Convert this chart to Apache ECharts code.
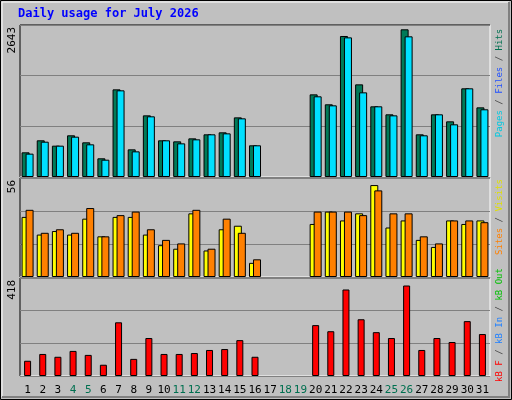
<!DOCTYPE html>
<html><head><meta charset="utf-8">
<script src="https://cdn.jsdelivr.net/npm/echarts@6/dist/echarts.min.js"></script>
<style>html,body{margin:0;padding:0;background:#c0c0c0}#c{width:512px;height:400px}</style>
</head><body><div id="c"></div>
<script>
const days = ['1','2','3','4','5','6','7','8','9','10','11','12','13','14','15','16','17','18','19','20','21','22','23','24','25','26','27','28','29','30','31'];
const weekend = ['4','5','11','12','18','19','25','26'];
const hits = [429,638,545,725,603,325,1524,481,1072,638,620,672,742,777,1037,551,0,0,0,1437,1264,2452,1611,1229,1090,2568,742,1090,968,1542,1211];
const pages = [406,614,545,701,568,301,1507,446,1055,638,585,655,742,759,1020,551,0,0,0,1403,1246,2428,1472,1229,1072,2446,725,1090,916,1542,1177];
const visits = [34,24,26,24,33,23,34,34,24,18,16,36,15,27,29,8,0,0,0,30,37,32,36,52,28,32,21,17,32,30,32];
const sites = [38,25,27,25,39,23,35,37,27,21,19,38,16,33,25,10,0,0,0,37,37,37,35,49,36,36,23,19,32,32,31];
const kbytes = [65,94,82,107,90,48,229,73,162,94,94,98,111,115,153,82,0,0,0,217,191,369,242,187,162,386,111,162,145,234,179];
const maxLabels = [2643, 56, 418];

const chart = echarts.init(document.getElementById('c'));
const mono = 'DejaVu Sans Mono';
const L = 20, W = 470;
const grids = [{top:25,height:152},{top:178,height:99},{top:278,height:98}];
const xAxes = grids.map((g,i)=>({
  type:'category', gridIndex:i, data:days,
  axisLine:{show:false}, axisTick:{show:false},
  axisLabel:{show:i===2, interval:0, margin:9, fontFamily:mono, fontSize:11,
    formatter:v=>weekend.includes(v)?'{w|'+v+'}':'{n|'+v+'}',
    rich:{w:{color:'#007050',fontFamily:mono,fontSize:11},n:{color:'#000',fontFamily:mono,fontSize:11}}}
}));
const yAxes = maxLabels.map((m,i)=>({
  type:'value', gridIndex:i, min:0, max:m, interval:m/3,
  axisLabel:{show:false}, axisLine:{show:false}, axisTick:{show:false},
  splitLine:{show:true, lineStyle:{color:'#808080', width:1}}
}));
function bar(data, color, gi, width){
  return {type:'bar', data:data.map(v=>v===0?'-':v), xAxisIndex:gi, yAxisIndex:gi, barWidth:width, barGap:'-50%',
    itemStyle:{color, borderColor:'#000', borderWidth:1}, animation:false, silent:true};
}
const graphic = [
  {type:'rect', shape:{x:0.5,y:0.5,width:511,height:399}, style:{fill:'none',stroke:'#000'}},
  {type:'polyline', shape:{points:[[2,397],[2,2],[509,2]]}, style:{stroke:'#fff',fill:'none',lineWidth:1}},
  {type:'polyline', shape:{points:[[2,397],[509,397],[509,2]]}, style:{stroke:'#808080',fill:'none',lineWidth:2}},
  {type:'text', left:18, top:8, style:{text:'Daily usage for July 2026', fill:'#0000ff', font:'bold 12px '+mono}}
];
grids.forEach((g,i)=>{
  graphic.push({type:'polyline', shape:{points:[[L,g.top+g.height],[L,g.top],[L+W,g.top]]}, style:{stroke:'#000',fill:'none',lineWidth:1}});
  graphic.push({type:'polyline', shape:{points:[[L,g.top+g.height],[L+W,g.top+g.height],[L+W,g.top]]}, style:{stroke:'#fff',fill:'none',lineWidth:1}});
  graphic.push({type:'text', x:18, y:g.top+2, rotation:Math.PI/2,
    style:{text:String(maxLabels[i]), fill:'#000', font:'11px '+mono, align:'right', verticalAlign:'bottom'}});
});
function legend(cx, cy, parts){
  graphic.push({type:'text', x:cx, y:cy, rotation:Math.PI/2,
    style:{rich:Object.fromEntries(parts.map((p,j)=>['p'+j,{fill:p[1],font:'9px '+mono}])),
      text:parts.map((p,j)=>'{p'+j+'|'+p[0]+'}').join(''), align:'center', verticalAlign:'middle'}});
}
legend(500, 83, [['Pages ','#00c8e0'],['/ ','#404040'],['Files ','#2050ff'],['/ ','#404040'],['Hits','#007050']]);
legend(500, 217, [['Sites ','#ff8000'],['/ ','#404040'],['Visits','#e0e000']]);
legend(500, 325, [['kB F ','#ff0000'],['/ ','#404040'],['kB In ','#2080ff'],['/ ','#404040'],['kB Out','#00c000']]);

chart.setOption({
  backgroundColor:'#c0c0c0', animation:false,
  grid: grids.map(g=>({left:L, width:W, top:g.top, height:g.height})),
  xAxis:xAxes, yAxis:yAxes,
  series:[
    bar(hits,'#007a58',0,8), bar(pages,'#00e0ff',0,8),
    bar(visits,'#ffff00',1,8), bar(sites,'#ff8000',1,8),
    bar(kbytes,'#ff0000',2,7)
  ],
  graphic
});
</script></body></html>
